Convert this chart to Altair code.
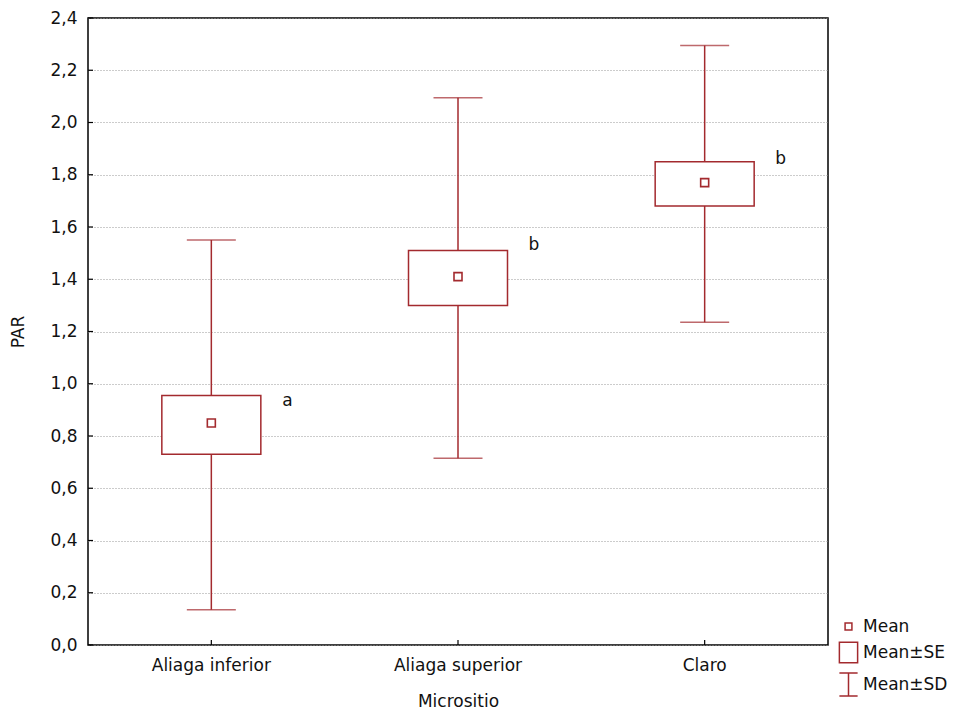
import altair as alt
import pandas as pd

categories = ["Aliaga inferior", "Aliaga superior", "Claro"]
means = [0.85, 1.41, 1.77]
se_low = [0.73, 1.30, 1.68]
se_high = [0.955, 1.51, 1.85]
sd_low = [0.135, 0.715, 1.235]
sd_high = [1.55, 2.095, 2.295]
letters = ["a", "b", "b"]
letter_y = [0.935, 1.53, 1.86]
y_ticks = [0.0, 0.2, 0.4, 0.6, 0.8, 1.0, 1.2, 1.4, 1.6, 1.8, 2.0, 2.2, 2.4]
legend_labels = ["Mean", "Mean±SE", "Mean±SD"]

RED = "#a32a2e"
FONT = "DejaVu Sans"
TXT = "#111"
FS = 17
W, H = 740, 627

df = pd.DataFrame({
    "cat": categories, "mean": means, "se_lo": se_low, "se_hi": se_high,
    "sd_lo": sd_low, "sd_hi": sd_high, "letter": letters, "ly": letter_y,
})
ticks_df = pd.DataFrame({"v": y_ticks})
leg_df = pd.DataFrame({"item": legend_labels, "cat": categories, "mean": means})

xenc = alt.X("cat:N", sort=categories, title="Micrositio",
             scale=alt.Scale(paddingInner=0, paddingOuter=0),
             axis=alt.Axis(labelAngle=0, labelFontSize=FS, labelFont=FONT, labelColor=TXT,
                           titleFontSize=FS, titleFont=FONT, titleFontWeight="normal", titleColor=TXT,
                           titlePadding=20, labelPadding=12, tickSize=0, domain=False, grid=False))
yscale = alt.Scale(domain=[0, 2.4], nice=False, zero=False)
yaxis = alt.Axis(values=y_ticks, labelExpr="replace(format(datum.value, '.1f'), '.', ',')",
                 labelFontSize=FS, labelFont=FONT, labelColor=TXT, titleFontSize=FS, titleFont=FONT,
                 titleFontWeight="normal", titleColor=TXT, titlePadding=22, labelPadding=11,
                 tickSize=0, domain=False, grid=True, gridColor="#999", gridDash=[1, 2], gridWidth=1)

base = alt.Chart(df)

whisker = base.mark_rule(color=RED, strokeWidth=1.5).encode(
    x=xenc, y=alt.Y("sd_lo:Q", scale=yscale, axis=yaxis, title="PAR"), y2="sd_hi:Q")
caps_lo = base.mark_tick(color=RED, size=49, thickness=1.5, orient="horizontal").encode(
    x=alt.X("cat:N", sort=categories), y="sd_lo:Q")
caps_hi = base.mark_tick(color=RED, size=49, thickness=1.5, orient="horizontal").encode(
    x=alt.X("cat:N", sort=categories), y="sd_hi:Q")
box = base.mark_bar(fill="white", stroke=RED, strokeWidth=1.5, size=99).encode(
    x=alt.X("cat:N", sort=categories), y="se_lo:Q", y2="se_hi:Q")
mean_pt = base.mark_point(shape="square", size=64, filled=False, fill="white", fillOpacity=1,
                          color=RED, strokeWidth=1.6, opacity=1).encode(
    x=alt.X("cat:N", sort=categories), y="mean:Q")
txt = base.mark_text(font=FONT, fontSize=FS, color=TXT, dx=76, align="center", baseline="middle").encode(
    x=alt.X("cat:N", sort=categories), y="ly:Q", text="letter:N")

# inward ticks
yt = alt.Chart(ticks_df).mark_rule(color="black", strokeWidth=1.2).encode(
    y="v:Q", x=alt.value(0), x2=alt.value(5))
xt = alt.Chart(pd.DataFrame({"cat": categories})).mark_rule(color="black", strokeWidth=1.2).encode(
    x=alt.X("cat:N", sort=categories), y=alt.value(H), y2=alt.value(H - 5))

legend_layer = alt.Chart(leg_df).transform_filter("false").mark_point(
    color=RED, filled=False, strokeWidth=1.5).encode(
    x=alt.X("cat:N", sort=categories), y="mean:Q",
    shape=alt.Shape("item:N", sort=legend_labels,
                    scale=alt.Scale(domain=legend_labels,
                                    range=["M-0.3,-0.3H0.3V0.3H-0.3Z",
                                           "M-0.8,-0.9H0.8V0.9H-0.8Z",
                                           "M-0.8,-1H0.8M0,-1V1M-0.8,1H0.8"]),
                    legend=alt.Legend(title=None, orient="none", legendX=748, legendY=596,
                                      symbolSize=520, symbolStrokeColor=RED, symbolFillColor="white",
                                      symbolStrokeWidth=1.5, symbolOpacity=1,
                                      labelFont=FONT, labelFontSize=FS, labelColor=TXT,
                                      rowPadding=4, labelOffset=2)))

chart = alt.layer(whisker, caps_lo, caps_hi, box, mean_pt, txt, yt, xt, legend_layer).properties(
    width=W, height=H,
    autosize=alt.AutoSizeParams(type="none"),
    padding={"left": 88, "top": 18, "right": 134, "bottom": 75},
    background="white",
).configure_view(stroke="black", strokeWidth=1.5)

chart.save("out.html", embed_options={"renderer": "svg", "actions": False})
